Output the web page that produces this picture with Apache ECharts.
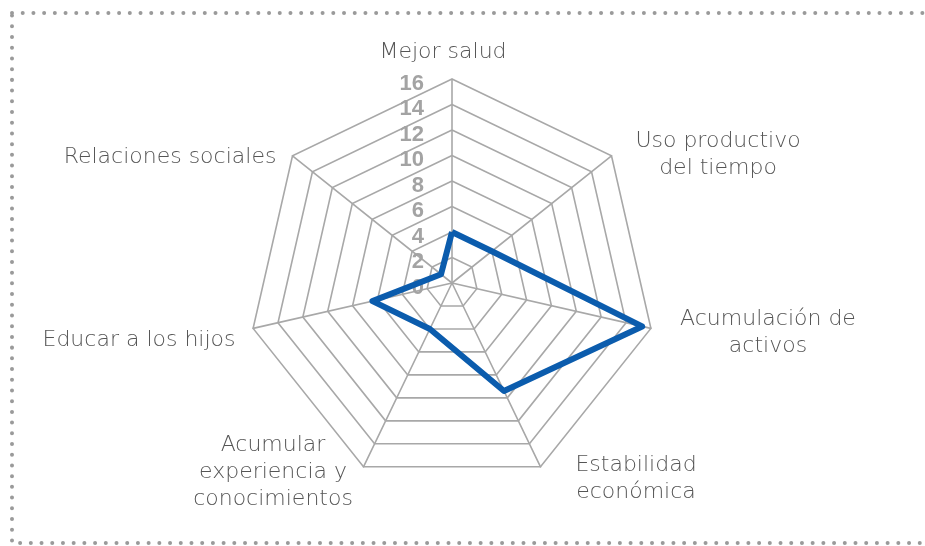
<!DOCTYPE html>
<html>
<head>
<meta charset="utf-8">
<script src="https://cdn.jsdelivr.net/npm/echarts@6/dist/echarts.min.js"></script>
<style>
  html, body { margin: 0; padding: 0; background: #fff; }
  #chart { width: 925px; height: 546px; }
</style>
</head>
<body>
<div id="chart"></div>
<script>
// indicadores en sentido horario desde arriba
var indicadores = ['Mejor salud', 'Uso productivo del tiempo', 'Acumulación de activos',
    'Estabilidad económica', 'Acumular experiencia y conocimientos', 'Educar a los hijos',
    'Relaciones sociales'];
var valores = [4, 4, 15.3, 9.4, 4, 6.4, 1.1];
var maxEscala = 16;
var escalaTicks = [0, 2, 4, 6, 8, 10, 12, 14, 16];

// textos de los nombres (con saltos de linea como en el original)
var nombresTexto = ['Mejor salud', 'Uso productivo\ndel tiempo', 'Acumulación de\nactivos',
    'Estabilidad\neconómica', 'Acumular\nexperiencia y\nconocimientos', 'Educar a los hijos',
    'Relaciones sociales'];
var nombresPos = [[443, 52], [718, 155], [768, 333], [636, 479], [273, 472], [139, 340], [170, 157]];

var myChart = echarts.init(document.getElementById('chart'));

// ECharts coloca los indicadores en sentido antihorario: invertir (menos el primero)
var orden = [0, 6, 5, 4, 3, 2, 1];
var indicator = orden.map(function (i, k) {
    var ind = {name: indicadores[i], max: maxEscala, min: 0};
    if (k === 0) {
        ind.axisLabel = {
            show: true,
            margin: 28,
            formatter: function (v) { return '{t|' + v + '}'; },
            rich: {
                t: {
                    color: '#a3a3a3',
                    fontSize: 22,
                    fontWeight: 'bold',
                    fontFamily: 'Liberation Sans',
                    padding: [9, 0, 0, 0]
                }
            }
        };
    }
    return ind;
});
var datos = orden.map(function (i) { return valores[i]; });

var graficos = nombresTexto.map(function (t, i) {
    return {
        type: 'text',
        x: nombresPos[i][0],
        y: nombresPos[i][1],
        style: {
            text: t,
            fill: '#555555',
            font: '200 22px "DejaVu Sans"',
            align: 'center',
            verticalAlign: 'middle',
            lineHeight: 27
        }
    };
});
graficos.unshift({
    type: 'rect',
    shape: {x: 12, y: 13, width: 960, height: 530},
    style: {fill: null, stroke: '#9a9a9a', lineWidth: 4, lineDash: [0.01, 10.7], lineCap: 'round'},
    silent: true
});

var option = {
    animation: false,
    graphic: graficos,
    radar: {
        center: [452, 283],
        radius: 204,
        startAngle: 90,
        splitNumber: 8,
        shape: 'polygon',
        indicator: indicator,
        axisName: {show: false},
        axisLine: {lineStyle: {color: '#a8a8a8', width: 1.6}},
        splitLine: {lineStyle: {color: '#a8a8a8', width: 1.6}},
        splitArea: {show: false},
        axisTick: {show: false},
        axisLabel: {show: false}
    },
    series: [{
        type: 'radar',
        symbol: 'none',
        lineStyle: {color: '#0b5cad', width: 6},
        data: [{value: datos}]
    }]
};

myChart.setOption(option);
</script>
</body>
</html>
